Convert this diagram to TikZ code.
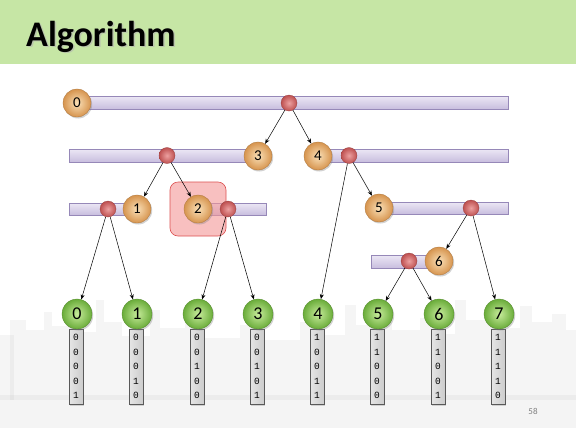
\documentclass[tikz,border=0pt]{standalone}
\usepackage{fontspec}
\setmainfont{Carlito}
\newfontfamily\bitfont{Liberation Mono}
\usetikzlibrary{shadows,arrows.meta}
\definecolor{titlebg}{RGB}{198,230,165}
\definecolor{oin}{RGB}{250,224,184}
\definecolor{oout}{RGB}{214,148,78}
\definecolor{rin}{RGB}{236,160,160}
\definecolor{rout}{RGB}{190,80,80}
\definecolor{gin}{RGB}{200,236,156}
\definecolor{gout}{RGB}{106,172,58}
\definecolor{bartop}{RGB}{236,231,245}
\definecolor{barbot}{RGB}{200,190,222}
\definecolor{barline}{RGB}{150,136,184}
\definecolor{city}{RGB}{200,200,200}
\tikzset{
  obal/.style={circle,minimum size=28pt,inner sep=0pt,inner color=oin,outer color=oout,
    draw=oout!80!black,line width=0.3pt,font=\fontsize{15}{15}\selectfont,
    drop shadow={shadow xshift=1.2pt,shadow yshift=-1.5pt,opacity=0.35}},
  gbal/.style={circle,minimum size=30pt,inner sep=0pt,inner color=gin,outer color=gout,
    draw=gout!80!black,line width=0.3pt,font=\fontsize{18}{18}\selectfont,
    drop shadow={shadow xshift=1.2pt,shadow yshift=-1.5pt,opacity=0.35}},
  rdot/.style={circle,minimum size=16pt,inner sep=0pt,inner color=rin,outer color=rout,
    draw=rout!80!black,line width=0.3pt},
  barbox/.style={top color=bartop,bottom color=barbot,draw=barline,line width=0.5pt,
    drop shadow={shadow xshift=1pt,shadow yshift=-1.2pt,opacity=0.25}},
  bitbox/.style={rectangle,minimum width=14pt,minimum height=75pt,inner sep=0pt,
    left color=gray!20,right color=gray!40,draw=gray!70!black,line width=0.5pt,
    align=center,font=\bitfont\fontsize{9.5}{14.5}\selectfont,
    drop shadow={shadow xshift=1.2pt,shadow yshift=-1.5pt,opacity=0.3}},
  arr/.style={-{Stealth[length=5pt,width=4pt]},line width=0.5pt,black},
}
\begin{document}
\begin{tikzpicture}[x=1pt,y=-1pt]
\useasboundingbox (0,0) rectangle (576,432);
\fill[white] (0,0) rectangle (576,432);
% faint skyline
\begin{scope}[fill=city,opacity=0.18]
\fill (0,335) rectangle (14,400);
\fill (10,320) rectangle (26,400);
\fill (26,330) rectangle (44,400);
\fill (44,312) rectangle (52,400);
\fill (52,326) rectangle (70,400);
\fill (70,318) rectangle (84,400);
\fill (84,332) rectangle (96,400);
\fill (96,300) rectangle (104,400);
\fill (104,322) rectangle (122,400);
\fill (122,336) rectangle (150,400);
\fill (150,310) rectangle (160,400);
\fill (160,328) rectangle (185,400);
\fill (185,318) rectangle (196,400);
\fill (196,338) rectangle (240,400);
\fill (240,325) rectangle (255,400);
\fill (255,340) rectangle (300,400);
\fill (300,322) rectangle (315,400);
\fill (315,335) rectangle (345,400);
\fill (345,305) rectangle (356,400);
\fill (356,325) rectangle (380,400);
\fill (380,312) rectangle (392,400);
\fill (392,330) rectangle (420,400);
\fill (420,318) rectangle (432,400);
\fill (432,334) rectangle (455,400);
\fill (455,300) rectangle (466,400);
\fill (466,320) rectangle (485,400);
\fill (485,310) rectangle (498,400);
\fill (498,328) rectangle (520,400);
\fill (520,306) rectangle (532,400);
\fill (532,322) rectangle (552,400);
\fill (552,314) rectangle (566,400);
\fill (566,330) rectangle (576,400);
\end{scope}
\fill[city,opacity=0.2] (0,395) rectangle (576,428);
% title
\fill[titlebg] (0,0) rectangle (576,64);
\node[anchor=base west,inner sep=0pt,font=\fontsize{36}{36}\selectfont\bfseries,text=black!30,opacity=0.6] at (27.5,47.5) {Algorithm};
\node[anchor=base west,inner sep=0pt,font=\fontsize{36}{36}\selectfont\bfseries] (title) at (26,46) {Algorithm};
% bars
\draw[barbox] (77,96) rectangle (508,109);
\draw[barbox] (69,149) rectangle (258,162);
\draw[barbox] (318,149) rectangle (508,162);
\draw[barbox] (69,203) rectangle (137,215);
\draw[barbox] (198,203) rectangle (266,215);
\draw[barbox] (379,202) rectangle (508,214);
\draw[barbox] (371,255) rectangle (439,268);
% highlight
\draw[fill={rgb,255:red,244;green,150;blue,150},fill opacity=0.6,draw={rgb,255:red,220;green,80;blue,80},rounded corners=8pt,line width=0.6pt] (170,182) rectangle (226,236);
% bit boxes
\node[bitbox] (b0) at (76,366.5) {0\\0\\0\\0\\1};
\node[bitbox] (b1) at (136,366.5) {0\\0\\0\\1\\0};
\node[bitbox] (b2) at (197,366.5) {0\\0\\1\\0\\0};
\node[bitbox] (b3) at (257,366.5) {0\\0\\1\\0\\1};
\node[bitbox] (b4) at (317,366.5) {1\\0\\0\\1\\1};
\node[bitbox] (b5) at (377,366.5) {1\\1\\0\\0\\0};
\node[bitbox] (b6) at (438,366.5) {1\\1\\0\\0\\1};
\node[bitbox] (b7) at (498,366.5) {1\\1\\1\\1\\0};
% leaves
\node[gbal] (l0) at (77,314) {0};
\node[gbal] (l1) at (137,314) {1};
\node[gbal] (l2) at (198,314) {2};
\node[gbal] (l3) at (258,314) {3};
\node[gbal] (l4) at (318,314) {4};
\node[gbal] (l5) at (378,314) {5};
\node[gbal] (l6) at (439,314) {6};
\node[gbal] (l7) at (499,314) {7};
% internal nodes
\node[obal] (n0) at (77,103) {0};
\node[obal] (n3) at (258,156) {3};
\node[obal] (n4) at (318,156) {4};
\node[obal] (n1) at (137,209) {1};
\node[obal] (n2) at (198,209) {2};
\node[obal] (n5) at (379,208) {5};
\node[obal] (n6) at (439,261) {6};
% split dots
\node[rdot] (d0) at (289,103) {};
\node[rdot] (d3) at (167,155.5) {};
\node[rdot] (d4) at (349,155.5) {};
\node[rdot] (d1) at (108,209) {};
\node[rdot] (d2) at (228,209) {};
\node[rdot] (d5) at (471,208) {};
\node[rdot] (d6) at (409,261) {};
% arrows
\draw[arr] (d0) -- (n3);
\draw[arr] (d0) -- (n4);
\draw[arr] (d3) -- (n1);
\draw[arr] (d3) -- (n2);
\draw[arr] (d4) -- (l4);
\draw[arr] (d4) -- (n5);
\draw[arr] (d1) -- (l0);
\draw[arr] (d1) -- (l1);
\draw[arr] (d2) -- (l2);
\draw[arr] (d2) -- (l3);
\draw[arr] (d5) -- (n6);
\draw[arr] (d5) -- (l7);
\draw[arr] (d6) -- (l5);
\draw[arr] (d6) -- (l6);
% page number
\node[text=gray,font=\fontsize{9}{9}\selectfont] (pg) at (533,411) {58};
\end{tikzpicture}
\end{document}
